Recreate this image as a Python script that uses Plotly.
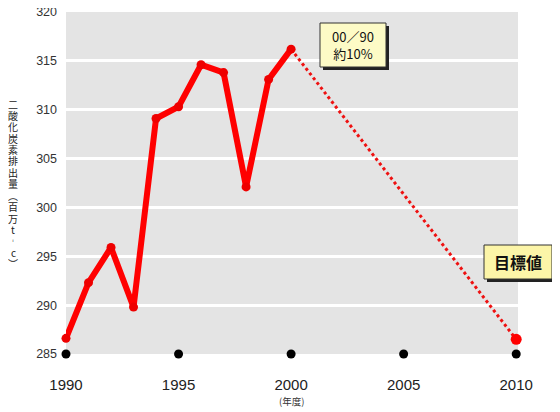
import plotly.graph_objects as go

years = [1990, 1991, 1992, 1993, 1994, 1995, 1996, 1997, 1998, 1999, 2000]
emissions = [286.6, 292.3, 295.9, 289.8, 309.1, 310.3, 314.6, 313.8, 302.1, 313.1, 316.2]
target_years = [2000, 2010]
target_values = [316.2, 286.5]
tick_years = [1990, 1995, 2000, 2005, 2010]
y_ticks = [285, 290, 295, 300, 305, 310, 315, 320]
y_title_chars = ["二", "酸", "化", "炭", "素", "排", "出", "量", "︵", "百", "万", "t", "︲", "c", "︶"]
note_text = "00／90<br>約10%"
target_text = "目標値"
year_unit = "(年度)"

# the page body has an 8px margin; positions below are page pixels
OFF = 8
W, H = 560 - OFF, 412 - OFF
L, T = 66 - OFF, 12 - OFF
pw, ph = 452, 342
R, B = W - L - pw, H - T - ph

def px(x):
    return (x - OFF - L) / pw

def py(y):
    return (T + ph - (y - OFF)) / ph

fig = go.Figure()
fig.add_trace(go.Scatter(x=target_years, y=target_values, mode="lines",
                         line=dict(color="#ee1111", width=3, dash="dot"),
                         hoverinfo="skip", cliponaxis=False))
fig.add_trace(go.Scatter(x=[target_years[-1]], y=[target_values[-1]], mode="markers",
                         marker=dict(color="#ff0000", size=11), cliponaxis=False))
fig.add_trace(go.Scatter(x=years, y=emissions, mode="lines+markers",
                         line=dict(color="#ff0000", width=6),
                         marker=dict(color="#ee0000", size=9), cliponaxis=False))
fig.add_trace(go.Scatter(x=tick_years, y=[y_ticks[0]] * len(tick_years), mode="markers",
                         marker=dict(color="#000000", size=9), cliponaxis=False))

shapes = []
annotations = []

def box(cx, cy, w, h, text, fill, size):
    x0, x1 = cx - w / 2, cx + w / 2
    y0, y1 = cy - h / 2, cy + h / 2
    shapes.append(dict(type="rect", xref="paper", yref="paper",
                       x0=px(x0 + 3), x1=px(x1 + 3), y0=py(y1 + 3), y1=py(y0 + 3),
                       fillcolor="#222222", line=dict(width=0), layer="above"))
    shapes.append(dict(type="rect", xref="paper", yref="paper",
                       x0=px(x0), x1=px(x1), y0=py(y1), y1=py(y0),
                       fillcolor=fill, line=dict(color="#333333", width=1), layer="above"))
    annotations.append(dict(xref="paper", yref="paper", x=px(cx), y=py(cy),
                            text=text, showarrow=False, xanchor="center", yanchor="middle",
                            font=dict(family="Noto Sans CJK JP", size=size, color="#111111")))

box(353, 45, 66, 44, note_text, "#fdfbc6", 13)
box(518, 262, 68, 34, "<b>" + target_text + "</b>", "#fcf5a8", 16)

for i, ch in enumerate(y_title_chars):
    annotations.append(dict(xref="paper", yref="paper", x=px(13), y=py(104 + i * 11.4),
                            text=ch, showarrow=False, xanchor="center", yanchor="middle",
                            borderpad=0,
                            font=dict(family="Noto Sans CJK JP", size=10, color="#222222")))
annotations.append(dict(xref="paper", yref="paper", x=px(291), y=py(401),
                        text=year_unit, showarrow=False, xanchor="center", yanchor="middle",
                        font=dict(family="Noto Sans CJK JP", size=9.5, color="#333333")))

fig.update_layout(
    width=W, height=H,
    margin=dict(l=L, r=R, t=T, b=B, autoexpand=False),
    paper_bgcolor="white", plot_bgcolor="#e4e4e4",
    showlegend=False,
    shapes=shapes, annotations=annotations,
    xaxis=dict(range=[1990, 2010.08], tickvals=tick_years, showgrid=False, zeroline=False,
               showline=False, ticks="", ticklabelstandoff=20, automargin=False,
               ticklabeloverflow="allow",
               tickfont=dict(family="Liberation Sans", size=15, color="#222222")),
    yaxis=dict(range=[285, 320], tickvals=y_ticks, showgrid=True, gridcolor="white",
               gridwidth=3, zeroline=False, showline=False, ticks="", ticklabelstandoff=8,
               automargin=False, ticklabeloverflow="allow",
               tickfont=dict(family="Liberation Sans", size=12.5, color="#333333")),
)
fig.write_html("out.html")
